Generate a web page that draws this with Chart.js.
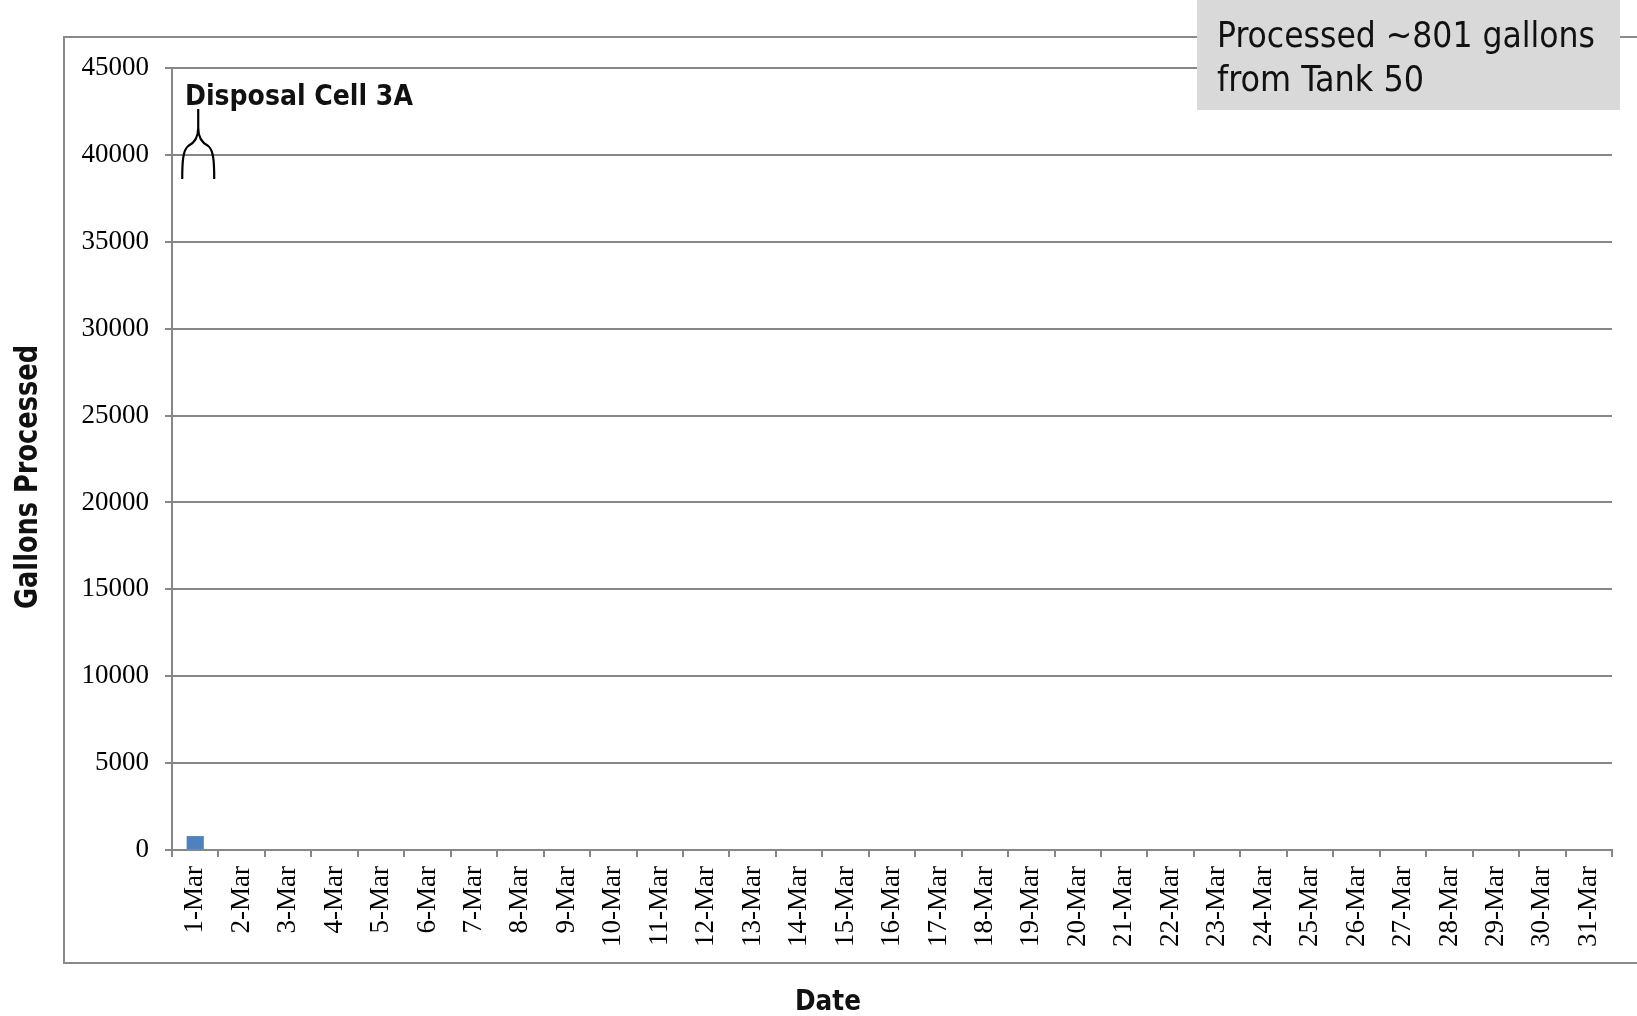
<!DOCTYPE html>
<html>
<head>
<meta charset="utf-8">
<title>Gallons Processed - March</title>
<script src="https://cdn.jsdelivr.net/npm/chart.js@4/dist/chart.umd.min.js"></script>
<style>
  html, body { margin: 0; padding: 0; background: #ffffff; }
  #wrap { position: relative; width: 1637px; height: 1016px; }
  canvas { display: block; }
</style>
</head>
<body>
<div id="wrap"><canvas id="chart" width="1637" height="1016"></canvas></div>
<script>
// Daily dates for March
const days = ['1-Mar','2-Mar','3-Mar','4-Mar','5-Mar','6-Mar','7-Mar','8-Mar','9-Mar','10-Mar',
  '11-Mar','12-Mar','13-Mar','14-Mar','15-Mar','16-Mar','17-Mar','18-Mar','19-Mar','20-Mar',
  '21-Mar','22-Mar','23-Mar','24-Mar','25-Mar','26-Mar','27-Mar','28-Mar','29-Mar','30-Mar','31-Mar'];

// Gallons processed per day
const gallons = [801, 0, 0, 0, 0, 0, 0, 0, 0, 0,
  0, 0, 0, 0, 0, 0, 0, 0, 0, 0,
  0, 0, 0, 0, 0, 0, 0, 0, 0, 0, 0];

// Value axis ticks
const yTicks = [0, 5000, 10000, 15000, 20000, 25000, 30000, 35000, 40000, 45000];

const calloutLines = ['Processed ~801 gallons', 'from Tank 50'];
const cellLabel = 'Disposal Cell 3A';
const xTitle = 'Date';
const yTitle = 'Gallons Processed';

const GRID = '#878787';
const SANS = "'DejaVu Sans Condensed', 'DejaVu Sans', sans-serif";
const SERIF = "'Liberation Serif', 'DejaVu Serif', serif";

// Outer frame behind everything
const framePlugin = {
  id: 'frame',
  beforeDraw(chart) {
    const ctx = chart.ctx;
    ctx.save();
    ctx.fillStyle = '#ffffff';
    ctx.fillRect(0, 0, chart.width, chart.height);
    ctx.strokeStyle = '#8a8a8a';
    ctx.lineWidth = 2;
    ctx.strokeRect(64, 37, chart.width, 926);
    ctx.restore();
  }
};

// Annotations, brace and axis titles
const notesPlugin = {
  id: 'notes',
  afterDraw(chart) {
    const ctx = chart.ctx;
    const xs = chart.scales.x;
    ctx.save();

    // callout box
    ctx.fillStyle = '#d9d9d9';
    ctx.fillRect(1197, 0, 423, 110);
    ctx.fillStyle = '#111111';
    ctx.font = '36px ' + SANS;
    ctx.textAlign = 'left';
    ctx.textBaseline = 'alphabetic';
    ctx.fillText(calloutLines[0], 1217, 47, 378);
    ctx.fillText(calloutLines[1], 1217, 91, 207);

    // label above the first bar
    ctx.font = 'bold 28px ' + SANS;
    ctx.fillText(cellLabel, 185, 105, 232);

    // brace pointing at the first day
    const cx = xs.getPixelForValue(0) + 3;
    ctx.strokeStyle = '#000000';
    ctx.lineWidth = 2.2;
    ctx.beginPath();
    ctx.moveTo(cx, 109);
    ctx.lineTo(cx, 128);
    ctx.bezierCurveTo(cx, 140, cx - 6, 144, cx - 10, 146);
    ctx.bezierCurveTo(cx - 15, 150, cx - 16, 160, cx - 16, 179);
    ctx.moveTo(cx, 128);
    ctx.bezierCurveTo(cx, 140, cx + 6, 144, cx + 10, 146);
    ctx.bezierCurveTo(cx + 15, 150, cx + 16, 160, cx + 16, 179);
    ctx.stroke();

    // axis titles
    ctx.fillStyle = '#111111';
    ctx.font = 'bold 29px ' + SANS;
    ctx.textAlign = 'center';
    ctx.fillText(xTitle, 828, 1010, 66);

    ctx.translate(37, 477);
    ctx.rotate(-Math.PI / 2);
    ctx.font = 'bold 32px ' + SANS;
    ctx.fillText(yTitle, 0, 0, 264);
    ctx.restore();
  }
};

new Chart(document.getElementById('chart'), {
  type: 'bar',
  data: {
    labels: days,
    datasets: [{
      data: gallons,
      backgroundColor: '#4f81bd',
      borderWidth: 0,
      categoryPercentage: 1.0,
      barPercentage: 0.37
    }]
  },
  options: {
    responsive: false,
    animation: false,
    devicePixelRatio: 1,
    layout: { padding: { top: 68, right: 25, left: 0, bottom: 0 } },
    plugins: {
      legend: { display: false },
      tooltip: { enabled: false },
      title: { display: false }
    },
    scales: {
      x: {
        offset: true,
        afterFit(scale) { scale.height = 166; },
        grid: {
          display: true,
          offset: true,
          drawOnChartArea: false,
          drawTicks: true,
          tickLength: 7,
          color: GRID,
          tickColor: GRID,
          lineWidth: 2
        },
        border: { display: true, color: GRID, width: 2 },
        ticks: {
          autoSkip: false,
          maxRotation: 90,
          minRotation: 90,
          padding: 9,
          color: '#000000',
          font: { family: SERIF, size: 27 }
        }
      },
      y: {
        min: 0,
        max: 45000,
        afterFit(scale) { scale.width = 172; },
        afterBuildTicks(scale) { scale.ticks = yTicks.map(v => ({ value: v })); },
        grid: {
          color: GRID,
          tickColor: GRID,
          lineWidth: 2,
          tickLength: 7,
          drawTicks: true
        },
        border: { display: true, color: GRID, width: 2 },
        ticks: {
          padding: 16,
          color: '#000000',
          font: { family: SERIF, size: 27 },
          callback: (v) => String(v)
        }
      }
    }
  },
  plugins: [framePlugin, notesPlugin]
});
</script>
</body>
</html>
